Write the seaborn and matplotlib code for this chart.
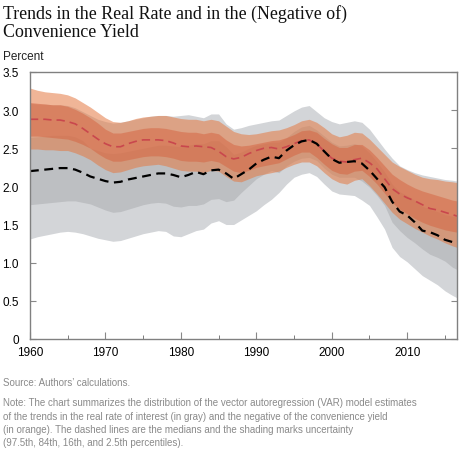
import numpy as np
import pandas as pd
import seaborn as sns
import matplotlib
matplotlib.use("Agg")
import matplotlib.pyplot as plt
import matplotlib.ticker as ticker

years = list(range(1960, 2017)) + [2016.6]

# real rate trend (gray): median and percentile bands
gray_med = [2.20, 2.21, 2.22, 2.23, 2.24, 2.24, 2.22, 2.18, 2.13, 2.10,
            2.07, 2.05, 2.06, 2.09, 2.11, 2.13, 2.15, 2.17, 2.17, 2.15,
            2.12, 2.15, 2.19, 2.16, 2.21, 2.22, 2.17, 2.10, 2.16, 2.22,
            2.30, 2.35, 2.39, 2.37, 2.47, 2.54, 2.59, 2.61, 2.56, 2.46,
            2.36, 2.31, 2.32, 2.33, 2.30, 2.21, 2.10, 1.99, 1.80, 1.67,
            1.62, 1.53, 1.42, 1.40, 1.36, 1.30, 1.27, 1.25]
gray_hi2 = [3.09, 3.08, 3.08, 3.07, 3.07, 3.06, 3.03, 2.98, 2.93, 2.88,
            2.85, 2.83, 2.84, 2.86, 2.88, 2.90, 2.92, 2.93, 2.93, 2.92,
            2.93, 2.94, 2.92, 2.90, 2.95, 2.95, 2.82, 2.75, 2.77, 2.80,
            2.82, 2.84, 2.86, 2.87, 2.93, 2.99, 3.04, 3.06, 2.98, 2.90,
            2.85, 2.82, 2.84, 2.86, 2.84, 2.75, 2.62, 2.49, 2.37, 2.27,
            2.22, 2.18, 2.15, 2.13, 2.11, 2.09, 2.08, 2.07]
gray_hi1 = [2.64, 2.65, 2.66, 2.67, 2.67, 2.67, 2.65, 2.60, 2.50, 2.47,
            2.44, 2.43, 2.44, 2.46, 2.48, 2.50, 2.52, 2.54, 2.54, 2.53,
            2.52, 2.54, 2.56, 2.56, 2.60, 2.60, 2.52, 2.42, 2.45, 2.50,
            2.54, 2.56, 2.58, 2.58, 2.64, 2.72, 2.78, 2.80, 2.74, 2.66,
            2.58, 2.53, 2.54, 2.56, 2.53, 2.44, 2.32, 2.19, 2.03, 1.93,
            1.88, 1.82, 1.74, 1.70, 1.67, 1.63, 1.61, 1.60]
gray_lo1 = [1.76, 1.77, 1.78, 1.79, 1.80, 1.81, 1.81, 1.79, 1.77, 1.73,
            1.69, 1.66, 1.67, 1.70, 1.73, 1.76, 1.78, 1.79, 1.78, 1.74,
            1.73, 1.75, 1.75, 1.77, 1.83, 1.84, 1.80, 1.82, 1.92, 2.01,
            2.10, 2.16, 2.21, 2.18, 2.27, 2.33, 2.37, 2.38, 2.34, 2.24,
            2.16, 2.12, 2.12, 2.12, 2.07, 1.99, 1.88, 1.75, 1.53, 1.42,
            1.33, 1.26, 1.18, 1.11, 1.07, 1.02, 0.94, 0.91]
gray_lo2 = [1.31, 1.34, 1.36, 1.38, 1.40, 1.41, 1.40, 1.38, 1.35, 1.32,
            1.30, 1.28, 1.29, 1.32, 1.35, 1.38, 1.40, 1.42, 1.41, 1.35,
            1.34, 1.38, 1.42, 1.44, 1.52, 1.55, 1.50, 1.50, 1.56, 1.62,
            1.68, 1.76, 1.83, 1.92, 2.03, 2.12, 2.16, 2.18, 2.13, 2.03,
            1.94, 1.90, 1.89, 1.88, 1.82, 1.75, 1.60, 1.44, 1.20, 1.08,
            1.01, 0.92, 0.83, 0.77, 0.71, 0.63, 0.57, 0.54]

# negative of convenience yield (orange)
orange_med = [2.88, 2.88, 2.88, 2.87, 2.87, 2.85, 2.82, 2.76, 2.69, 2.62,
              2.56, 2.52, 2.52, 2.56, 2.59, 2.61, 2.61, 2.61, 2.60, 2.57,
              2.53, 2.52, 2.53, 2.52, 2.51, 2.46, 2.39, 2.36, 2.38, 2.43,
              2.47, 2.50, 2.51, 2.49, 2.52, 2.56, 2.60, 2.61, 2.56, 2.46,
              2.37, 2.33, 2.32, 2.35, 2.37, 2.31, 2.23, 2.10, 1.97, 1.90,
              1.85, 1.81, 1.76, 1.71, 1.69, 1.66, 1.63, 1.61]
orange_hi2 = [3.29, 3.26, 3.24, 3.23, 3.22, 3.20, 3.16, 3.10, 3.04, 2.97,
              2.90, 2.85, 2.84, 2.86, 2.89, 2.91, 2.92, 2.93, 2.93, 2.91,
              2.89, 2.88, 2.88, 2.86, 2.88, 2.86, 2.79, 2.72, 2.69, 2.68,
              2.69, 2.71, 2.73, 2.74, 2.77, 2.81, 2.86, 2.88, 2.84, 2.77,
              2.69, 2.65, 2.67, 2.71, 2.70, 2.62, 2.52, 2.42, 2.32, 2.26,
              2.21, 2.16, 2.12, 2.10, 2.09, 2.07, 2.06, 2.05]
orange_hi1 = [3.10, 3.09, 3.08, 3.07, 3.07, 3.05, 3.01, 2.96, 2.90, 2.83,
              2.75, 2.70, 2.70, 2.72, 2.74, 2.76, 2.77, 2.77, 2.76, 2.74,
              2.72, 2.71, 2.71, 2.69, 2.71, 2.69, 2.61, 2.55, 2.53, 2.54,
              2.56, 2.58, 2.60, 2.61, 2.64, 2.68, 2.73, 2.74, 2.71, 2.63,
              2.56, 2.51, 2.51, 2.55, 2.55, 2.48, 2.38, 2.27, 2.16, 2.09,
              2.03, 1.98, 1.94, 1.91, 1.88, 1.85, 1.82, 1.81]
orange_lo1 = [2.66, 2.66, 2.65, 2.64, 2.63, 2.62, 2.59, 2.55, 2.50, 2.43,
              2.37, 2.33, 2.33, 2.35, 2.37, 2.39, 2.40, 2.40, 2.39, 2.37,
              2.34, 2.33, 2.33, 2.32, 2.34, 2.32, 2.26, 2.20, 2.18, 2.21,
              2.25, 2.27, 2.29, 2.31, 2.36, 2.41, 2.45, 2.45, 2.38, 2.29,
              2.21, 2.17, 2.16, 2.20, 2.21, 2.13, 2.03, 1.91, 1.79, 1.70,
              1.64, 1.58, 1.53, 1.49, 1.46, 1.43, 1.41, 1.40]
orange_lo2 = [2.49, 2.49, 2.48, 2.48, 2.47, 2.47, 2.44, 2.40, 2.35, 2.28,
              2.22, 2.18, 2.19, 2.22, 2.25, 2.27, 2.28, 2.29, 2.27, 2.24,
              2.21, 2.20, 2.20, 2.18, 2.21, 2.20, 2.13, 2.07, 2.06, 2.10,
              2.14, 2.16, 2.18, 2.20, 2.25, 2.29, 2.32, 2.32, 2.27, 2.18,
              2.10, 2.05, 2.03, 2.08, 2.10, 2.01, 1.90, 1.78, 1.66, 1.57,
              1.51, 1.45, 1.40, 1.35, 1.31, 1.26, 1.22, 1.20]

df = pd.DataFrame({"year": years, "gray_med": gray_med, "orange_med": orange_med})

sns.set_theme(style="white")
plt.rcParams["font.family"] = ["Liberation Sans", "DejaVu Sans"]

fig = plt.figure(figsize=(4.6, 4.52), dpi=100)
ax = fig.add_axes([0.065, 0.248, 0.9285, 0.5905])

# bands: gray first, orange translucent on top
ax.fill_between(years, gray_lo2, gray_hi2, color="#d3d5d8", lw=0)
ax.fill_between(years, gray_lo1, gray_hi1, color="#bdbfc2", lw=0)
ax.fill_between(years, orange_lo2, orange_hi2, color="#e47842", alpha=0.55, lw=0)
ax.fill_between(years, orange_lo1, orange_hi1, color="#d5623f", alpha=0.5, lw=0)

sns.lineplot(data=df, x="year", y="orange_med", ax=ax, color="#c9474d", lw=1.2,
             legend=False)
sns.lineplot(data=df, x="year", y="gray_med", ax=ax, color="black", lw=1.6,
             legend=False)
ax.lines[0].set_dashes([5, 3])
ax.lines[1].set_dashes([4, 2.5])

ax.set_xlim(1960, 2016.6)
ax.set_ylim(0, 3.5)
ax.set_xlabel("")
ax.set_ylabel("")
ax.xaxis.set_major_locator(ticker.MultipleLocator(10))
ax.xaxis.set_minor_locator(ticker.MultipleLocator(5))
ax.yaxis.set_major_locator(ticker.MultipleLocator(0.5))
ax.yaxis.set_major_formatter(ticker.FuncFormatter(lambda v, p: "0" if v == 0 else f"{v:.1f}"))

for s in ax.spines.values():
    s.set_color("#808080")
    s.set_linewidth(1.0)

ax.tick_params(axis="x", which="major", direction="in", length=5, width=0.8,
               color="#888888", labelsize=8.5, pad=5, labelcolor="black", bottom=True)
ax.tick_params(axis="x", which="minor", direction="in", length=3, width=0.6,
               color="#666666", bottom=True)
ax.tick_params(axis="y", which="major", direction="in", length=4, width=0.8,
               color="#888888", labelsize=8.5, pad=8, labelcolor="black",
               left=True, right=True)

fig.text(0.007, 0.988, "Trends in the Real Rate and in the (Negative of)\nConvenience Yield",
         fontsize=12.9, family=["Liberation Serif", "DejaVu Serif"], va="top", ha="left",
         linespacing=1.02, color="#111111")
fig.text(0.007, 0.873, "Percent", fontsize=8.5, va="center", ha="left", color="#222222")

fig.text(0.007, 0.152, "Source: Authors\u2019 calculations.", fontsize=7.0,
         va="center", ha="left", color="#8a8a8a")
note = ("Note: The chart summarizes the distribution of the vector autoregression (VAR) model estimates\n"
        "of the trends in the real rate of interest (in gray) and the negative of the convenience yield\n"
        "(in orange). The dashed lines are the medians and the shading marks uncertainty\n"
        "(97.5th, 84th, 16th, and 2.5th percentiles).")
fig.text(0.007, 0.119, note, fontsize=7.0, va="top", ha="left", color="#8a8a8a",
         linespacing=1.42)

fig.savefig("out.png", dpi=100)
